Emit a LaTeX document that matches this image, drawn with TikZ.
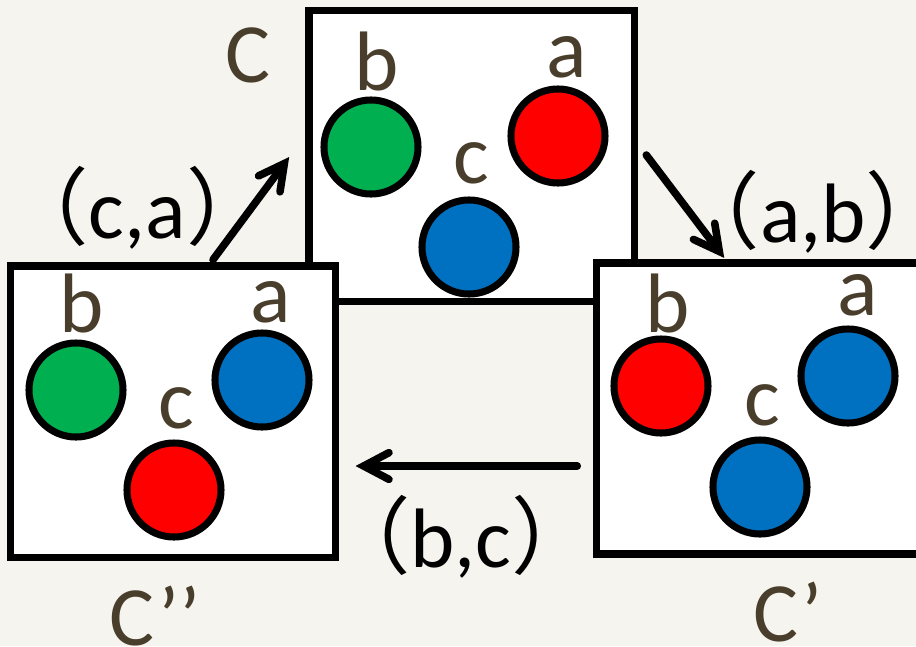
\documentclass[tikz,border=0pt]{standalone}
\usepackage{fontspec}
\setmainfont{Carlito}
\newfontfamily\cjk{Noto Sans CJK JP}
\usetikzlibrary{arrows.meta, positioning, calc}
\definecolor{paper}{RGB}{245,244,239}
\definecolor{labelbrown}{RGB}{73,62,44}
\definecolor{ballgreen}{RGB}{0,176,80}
\definecolor{ballred}{RGB}{255,0,0}
\definecolor{ballblue}{RGB}{0,112,192}

\tikzset{
  config/.style={draw=black, line width=5.3pt, fill=white, inner sep=0pt, outer sep=0pt,
    minimum width=8.125cm, minimum height=7.275cm},
  ball/.style={circle, draw=black, line width=5pt, inner sep=0pt, outer sep=0pt, minimum size=2.35cm},
  vname/.style={font=\fontsize{60}{72}\selectfont, text=labelbrown, anchor=base, inner sep=0pt},
  move/.style={line width=5.4pt, line cap=round,
    -{Straight Barb[length=18pt, width=19pt, line cap=round]}},
  movename/.style={font=\fontsize{60}{72}\selectfont, text=black, anchor=base, inner sep=0pt}
}

\begin{document}
\begin{tikzpicture}[x=0.025cm, y=-0.025cm]

\useasboundingbox (0,0) rectangle (916,646);
\clip (0,0) rectangle (916,646);
\fill[paper] (0,0) rectangle (916,646);

% === C (top) ===
\node[config] (C) at (471.75,156) {};
\node[vname] (Cname) at (248,82) {C};
\begin{scope}
\node[ball, fill=ballgreen] (Cb) at (371,147) {};
\node[ball, fill=ballred] (Ca) at (558,136) {};
\node[ball, fill=ballblue] (Cc) at (469,247) {};
\node[vname] at (377,90) {b};
\node[vname] at (567,77) {a};
\node[vname] at (471,183) {c};
\end{scope}

% === C'' (left) ===
\node[config] (Cpp) at (173,411.75) {};
\node[vname] (Cppname) at (155,645) {C’’};
\begin{scope}
\node[ball, fill=ballgreen] (Cppb) at (76,390) {};
\node[ball, fill=ballblue] (Cppa) at (262,380) {};
\node[ball, fill=ballred] (Cppc) at (174,490) {};
\node[vname] at (82,332) {b};
\node[vname] at (271,322) {a};
\node[vname] at (176,428) {c};
\end{scope}

% === C' (right) ===
\node[config] (Cp) at (759.25,408.5) {};
\node[vname] (Cpname) at (788,641) {C’};
\begin{scope}
\node[ball, fill=ballred] (Cpb) at (661,386) {};
\node[ball, fill=ballblue] (Cpa) at (848,376) {};
\node[ball, fill=ballblue] (Cpc) at (760,487) {};
\node[vname] at (668,332) {b};
\node[vname] at (858,315) {a};
\node[vname] at (762,425) {c};
\end{scope}

% === swaps ===
\draw[move] ([shift={(40,-6.5)}]Cpp.north) -- ([shift={(-20,1)}]C.west);
\node[movename] (swapca) at (137.5,238) {{\cjk （}c,a{\cjk ）}};

\draw[move] ([shift={(12,-1)}]C.east) -- ([shift={(-35,-5)}]Cp.north);
\node[movename] (swapab) at (813,242) {{\cjk （}a,b{\cjk ）}};

\draw[move] ([shift={(-19.5,57.5)}]Cp.west) -- ([shift={(20,54.25)}]Cpp.east);
\node[movename] (swapbc) at (461,567) {{\cjk （}b,c{\cjk ）}};

\end{tikzpicture}
\end{document}
